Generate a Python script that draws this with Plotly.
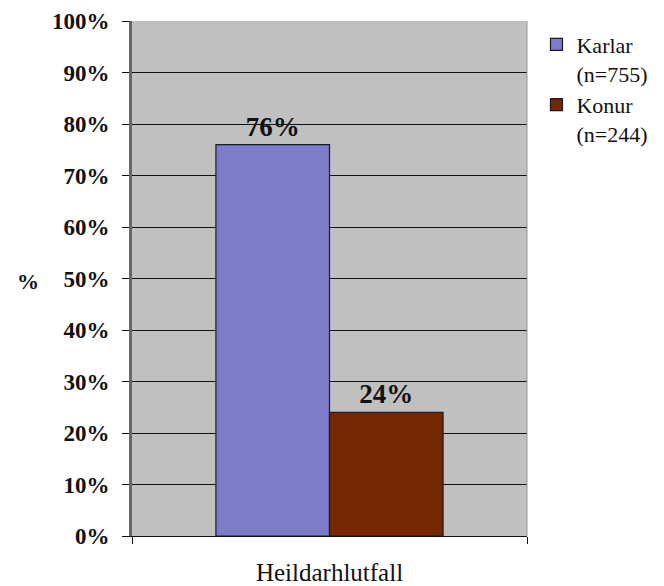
import plotly.graph_objects as go

categories = ["Heildarhlutfall"]
series_names = ["Karlar<br>(n=755)", "Konur<br>(n=244)"]
karlar = [76]
konur = [24]
series_values = [karlar, konur]
series_colors = ["#7c7cc8", "#742700"]
tick_vals = [0, 10, 20, 30, 40, 50, 60, 70, 80, 90, 100]
tick_text = ["0%", "10%", "20%", "30%", "40%", "50%", "60%", "70%", "80%", "90%", "100%"]

SERIF = "Liberation Serif"

fig = go.Figure()
for name, vals, col in zip(series_names, series_values, series_colors):
    fig.add_trace(go.Bar(
        x=categories, y=vals, name=name,
        marker=dict(color=col, line=dict(color="#1a1a2a", width=1.2)),
        text=[f"<b>{v}%</b>" for v in vals], textposition="outside",
        textfont=dict(family=SERIF, size=27, color="#111111"),
        cliponaxis=False,
    ))

fig.update_layout(
    width=656, height=578,
    margin=dict(l=124, r=137, t=13, b=50, autoexpand=False),
    paper_bgcolor="white", plot_bgcolor="#c0c0c0",
    barmode="group", bargap=0.425, bargroupgap=0,
    font=dict(family=SERIF, size=16, color="#111111"),
    showlegend=True,
    legend=dict(x=1.024, y=0.995, xanchor="left", yanchor="top", valign="top",
                font=dict(family=SERIF, size=22, color="#111111"),
                bgcolor="rgba(0,0,0,0)", tracegroupgap=0, itemwidth=30),
)
fig.update_xaxes(
    type="category", showgrid=False, showline=True, linecolor="#111111", linewidth=1.2,
    ticks="outside", tickson="boundaries", ticklen=7, tickcolor="#111111",
    tickfont=dict(family=SERIF, size=25, color="#111111"),
    ticklabelstandoff=14, automargin=False, ticklabeloverflow="allow",
)
fig.update_yaxes(
    range=[0, 100], tickvals=tick_vals, ticktext=tick_text,
    showgrid=True, gridcolor="#111111", gridwidth=1.2,
    showline=True, linecolor="#666666", linewidth=3,
    ticks="outside", ticklen=7, tickcolor="#111111",
    tickfont=dict(family=SERIF, size=23, color="#111111", weight="bold"),
    ticklabelstandoff=8, automargin=False, ticklabeloverflow="allow",
    zeroline=False,
)
fig.add_annotation(text="<b>%</b>", xref="paper", yref="paper", x=-0.263, y=0.494,
                   xanchor="center", yanchor="middle",
                   showarrow=False, font=dict(family=SERIF, size=22, color="#111111"))
# right border of plot area
fig.add_shape(type="line", xref="paper", yref="paper", x0=1, x1=1, y0=0, y1=1,
              line=dict(color="#999999", width=1))

fig.write_html("out.html")
